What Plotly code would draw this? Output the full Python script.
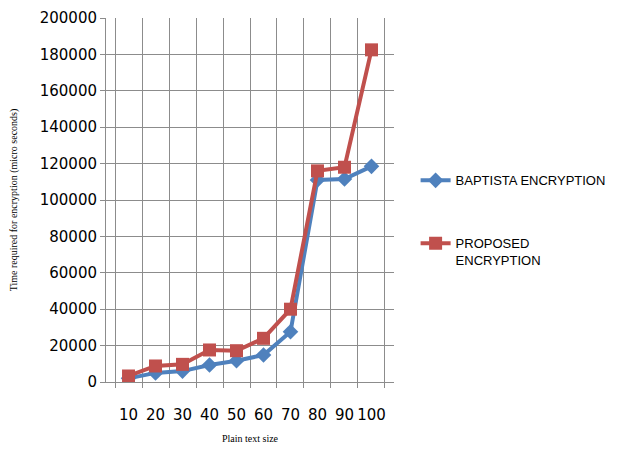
import plotly.graph_objects as go

sizes = ["10", "20", "30", "40", "50", "60", "70", "80", "90", "100"]
baptista = [2000, 5000, 6000, 9300, 11700, 14800, 27600, 111000, 111500, 118500]
proposed = [3300, 8800, 9700, 17600, 17200, 24000, 40000, 116000, 118000, 182500]

fig = go.Figure()
fig.add_trace(go.Scatter(
    x=sizes, y=baptista, mode="lines+markers", name="BAPTISTA ENCRYPTION",
    line=dict(color="#4F81BD", width=4),
    marker=dict(symbol="diamond", size=12, color="#4F81BD"),
    legendgroup="a",
))
fig.add_trace(go.Scatter(
    x=sizes, y=proposed, mode="lines+markers", name="PROPOSED<br>ENCRYPTION",
    line=dict(color="#C0504D", width=4),
    marker=dict(symbol="square", size=13, color="#C0504D"),
    legendgroup="b",
))

grid = "#8c8c8c"
serif = "Liberation Serif, Times New Roman, serif"
tickfam = "DejaVu Sans, Liberation Sans, sans-serif"
fig.update_layout(
    width=617, height=441,
    margin=dict(l=98, r=231, t=10, b=67, autoexpand=False),
    paper_bgcolor="white", plot_bgcolor="white",
    font=dict(family="Liberation Sans, Arial, sans-serif", size=14, color="black"),
    showlegend=True,
    legend=dict(x=1.075, y=0.595, xanchor="left", yanchor="top",
                font=dict(size=13), tracegroupgap=43, valign="top",
                bgcolor="rgba(0,0,0,0)"),
    xaxis=dict(
        type="category", tickson="boundaries", showgrid=True, gridcolor=grid, gridwidth=1,
        showline=True, linecolor=grid, ticks="outside", ticklen=5, tickcolor=grid,
        tickangle=0, automargin=False, ticklabelstandoff=19,
        title=dict(text="Plain text size", font=dict(family=serif, size=10), standoff=11),
        tickfont=dict(family=tickfam, size=15),
    ),
    yaxis=dict(
        range=[0, 200000], dtick=20000, showgrid=True, gridcolor=grid, gridwidth=1,
        showline=True, linecolor=grid, ticks="outside", ticklen=5, tickcolor=grid,
        zeroline=False, tickformat="d", automargin=False,
        title=dict(text="Time required for encryption (micro seconds)", font=dict(family=serif, size=10), standoff=26),
        tickfont=dict(family=tickfam, size=15),
    ),
)
fig.write_html("out.html")
